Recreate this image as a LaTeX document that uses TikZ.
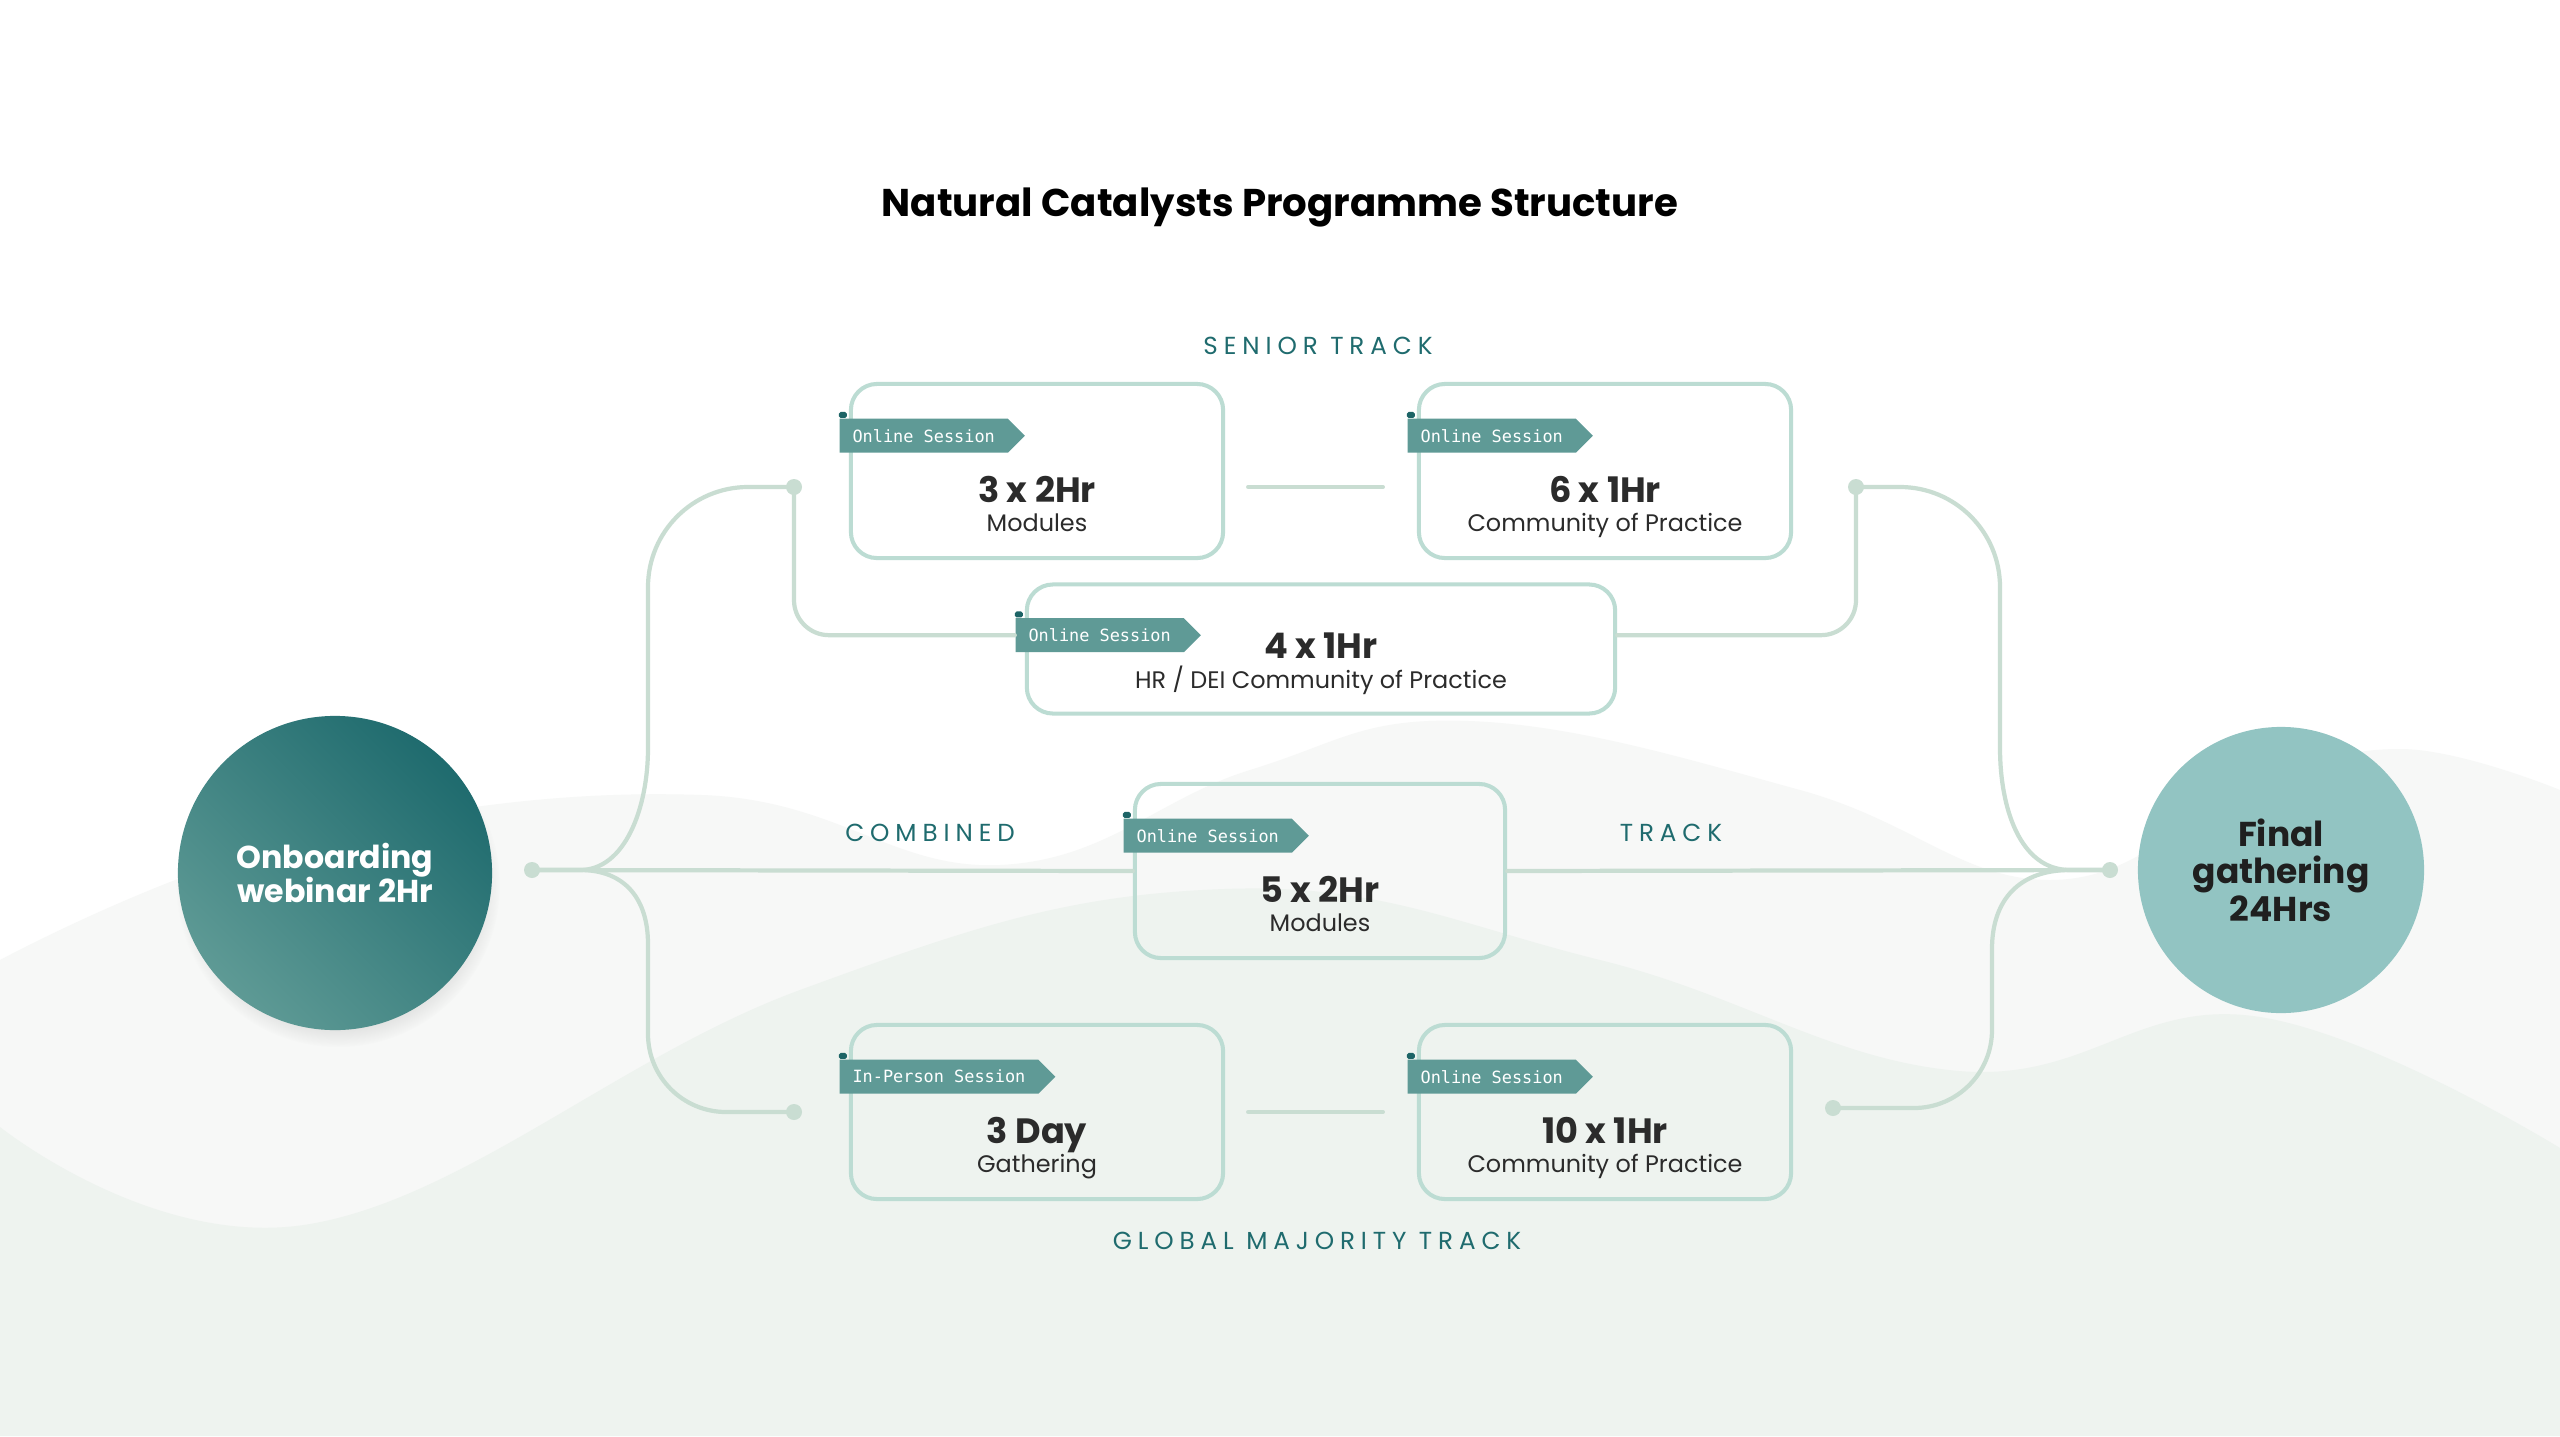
\documentclass[tikz,border=0pt]{standalone}
\usepackage{fontspec}
\setmainfont{Poppins}
\newfontfamily\tagfont{DejaVu Sans Mono}
\newfontfamily\trackfont[LetterSpace=24]{Poppins}
\usetikzlibrary{positioning,shapes.symbols,shadows}
\definecolor{ncTeal}{HTML}{1F6B6E}
\definecolor{ncTealLight}{HTML}{5E9A95}
\definecolor{ncTag}{HTML}{5F9A96}
\definecolor{ncTagFold}{HTML}{1D6466}
\definecolor{ncAqua}{HTML}{92C4C2}
\definecolor{ncBorder}{HTML}{BCDCD3}
\definecolor{ncLink}{HTML}{C9DDD2}
\definecolor{ncInk}{HTML}{2B2B2B}
\definecolor{ncBgA}{HTML}{F7F8F7}
\definecolor{ncBgC}{HTML}{EEF3EF}
\tikzset{
  nc session/.style={draw=ncBorder, line width=1.15pt, rounded corners=0.26cm, minimum width=3.72cm, minimum height=1.74cm, inner sep=0pt},
  nc tag/.style={signal, signal to=east, signal from=nowhere, signal pointer angle=90, fill=ncTag, text=white, font=\tagfont\fontsize{4.8}{5.5}\selectfont, minimum height=0.34cm, inner xsep=0.13cm, inner ysep=0pt, anchor=north west},
  nc fold/.style={fill=ncTagFold, rounded corners=0.5pt},
  nc head/.style={anchor=base, inner sep=0pt, text=ncInk, font=\bfseries\fontsize{10}{11}\selectfont},
  nc sub/.style={anchor=base, inner sep=0pt, text=ncInk, font=\fontsize{6.8}{8}\selectfont},
  nc track/.style={anchor=base, inner sep=0pt, text=ncTeal, font=\trackfont\fontsize{7}{8}\selectfont},
  nc link/.style={draw=ncLink, line width=1.2pt, line cap=round},
  nc dot/.style={circle, fill=ncLink, minimum size=0.16cm, inner sep=0pt},
  nc start/.style={circle, minimum size=3.14cm, inner sep=0pt, top color=ncTeal, bottom color=ncTealLight, shading angle=-45, text=white, align=center, font=\bfseries\fontsize{9}{9.7}\selectfont, circular drop shadow={shadow xshift=0.03cm, shadow yshift=-0.12cm, shadow scale=1.03, opacity=0.22}},
  nc end/.style={circle, minimum size=2.86cm, inner sep=0pt, fill=ncAqua, text=black!88, align=center, font=\bfseries\fontsize{9.8}{10.7}\selectfont},
}

\begin{document}
\begin{tikzpicture}[x=0.01cm,y=-0.01cm]
  \fill[white] (0,0) rectangle (2560,1436);
  \useasboundingbox (0,0) rectangle (2560,1436);

  % background hills
  \fill[ncBgA] plot[smooth, tension=0.7] coordinates {(0,960) (300,840) (702,795) (1000,865) (1250,770) (1469,721) (1800,790) (2050,880) (2250,790) (2400,749) (2560,790)} -- (2560,1436) -- (0,1436) -- cycle;
  \fill[ncBgC] plot[smooth, tension=0.7] coordinates {(0,1127) (310,1224) (800,990) (1224,889) (1600,960) (1959,1071) (2253,1016) (2560,1148)} -- (2560,1436) -- (0,1436) -- cycle;

  \node[font=\bfseries\fontsize{11}{12}\selectfont, anchor=base, inner sep=0pt] (title) at (1280,216) {Natural Catalysts Programme Structure};

  % sessions
  \node[nc session] (boxA) at (1037,471) {};
  \node[nc session] (boxB) at (1605,471) {};
  \node[nc session, minimum width=5.88cm, minimum height=1.29cm] (boxC) at (1321,649) {};
  \node[nc session, minimum width=3.70cm] (boxD) at (1320,871) {};
  \node[nc session] (boxE) at (1037,1112) {};
  \node[nc session] (boxF) at (1605,1112) {};

  % dots
  \node[nc dot] (dotL) at (532,870) {};
  \node[nc dot] (dotR) at (2110,870) {};
  \node[nc dot] (dotTL) at (794,487) {};
  \node[nc dot] (dotBL) at (794,1112) {};
  \node[nc dot] (dotTR) at (1856,487) {};
  \node[nc dot] (dotBR) at (1833,1108) {};

  % tags
  \node[nc tag] (tagA) at ([xshift=-0.1cm,yshift=-0.36cm]boxA.north west) {Online Session};
  \node[nc tag] (tagB) at ([xshift=-0.1cm,yshift=-0.36cm]boxB.north west) {Online Session};
  \node[nc tag] (tagC) at ([xshift=-0.1cm,yshift=-0.35cm]boxC.north west) {Online Session};
  \node[nc tag] (tagD) at ([xshift=-0.1cm,yshift=-0.36cm]boxD.north west) {Online Session};
  \node[nc tag] (tagE) at ([xshift=-0.1cm,yshift=-0.36cm]boxE.north west) {In-Person Session};
  \node[nc tag] (tagF) at ([xshift=-0.1cm,yshift=-0.36cm]boxF.north west) {Online Session};
  \foreach \t in {tagA,tagB,tagC,tagD,tagE,tagF}
    \fill[nc fold] (\t.north west) rectangle ++(8,-6);

  % connectors
  \draw[nc link] (dotL.center) -- (boxD.west);
  \draw[nc link] (boxD.east) -- (dotR.center);
  \draw[nc link] (dotL.center) -- ++(48,0) .. controls +(45,0) and +(0,60) .. ++(68,-122) [rounded corners=1cm] |- (dotTL.center);
  \draw[nc link] (dotL.center) -- ++(48,0) .. controls +(45,0) and +(0,-45) .. ++(68,74) [rounded corners=0.78cm] |- (dotBL.center);
  \draw[nc link] (dotR.center) -- ++(-40,0) .. controls +(-50,0) and +(0,60) .. ++(-70,-122) [rounded corners=1cm] |- (dotTR.center);
  \draw[nc link] (dotR.center) -- ++(-40,0) .. controls +(-50,0) and +(0,-50) .. ++(-78,79) [rounded corners=0.78cm] |- (dotBR.center);
  \draw[nc link] (dotTL.center) [rounded corners=0.35cm] |- (tagC.west);
  \draw[nc link] (dotTR.center) [rounded corners=0.35cm] |- (boxC.east |- tagC.west);
  \draw[nc link, shorten <=0.23cm, shorten >=0.34cm] (boxA.east |- dotTL) -- (boxB.west |- dotTL);
  \draw[nc link, shorten <=0.23cm, shorten >=0.34cm] (boxE.east |- dotBL) -- (boxF.west |- dotBL);

  % session texts
  \node[nc head] (hA) at ([yshift=-1.20cm]boxA.north) {3 x 2Hr};
  \node[nc sub] (sA) at ([yshift=-1.49cm]boxA.north) {Modules};
  \node[nc head] (hB) at ([yshift=-1.20cm]boxB.north) {6 x 1Hr};
  \node[nc sub] (sB) at ([yshift=-1.49cm]boxB.north) {Community of Practice};
  \node[nc head] (hC) at ([yshift=-0.76cm]boxC.north) {4 x 1Hr};
  \node[nc sub] (sC) at ([yshift=-1.06cm]boxC.north) {HR / DEI Community of Practice};
  \node[nc head] (hD) at ([yshift=-1.20cm]boxD.north) {5 x 2Hr};
  \node[nc sub] (sD) at ([yshift=-1.49cm]boxD.north) {Modules};
  \node[nc head] (hE) at ([yshift=-1.20cm]boxE.north) {3 Day};
  \node[nc sub] (sE) at ([yshift=-1.49cm]boxE.north) {Gathering};
  \node[nc head] (hF) at ([yshift=-1.20cm]boxF.north) {10 x 1Hr};
  \node[nc sub] (sF) at ([yshift=-1.49cm]boxF.north) {Community of Practice};

  % track labels
  \node[nc track] (lblSenior) at (1318,354) {SENIOR TRACK};
  \node[nc track] (lblCombined) at (930,841) {COMBINED};
  \node[nc track] (lblTrack) at (1671,841) {TRACK};
  \node[nc track] (lblGlobal) at (1317,1249) {GLOBAL MAJORITY TRACK};

  % start and end
  \node[nc start] (start) at (335,873) {Onboarding\\webinar 2Hr};
  \node[nc end] (finish) at (2281,870) {Final\\gathering\\24Hrs};
\end{tikzpicture}
\end{document}
